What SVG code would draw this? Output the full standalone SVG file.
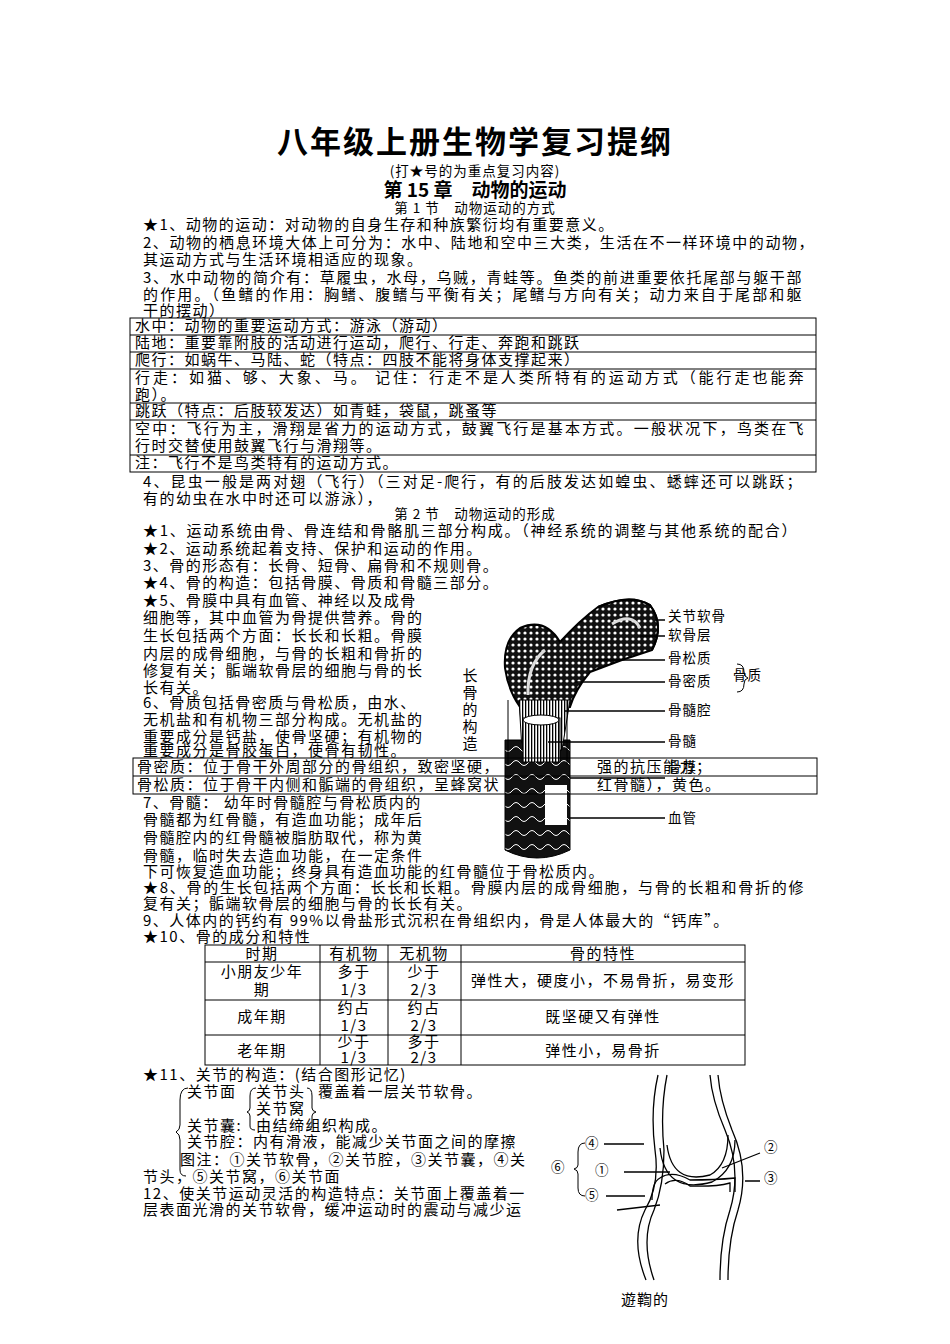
<svg xmlns="http://www.w3.org/2000/svg" width="950" height="1344" viewBox="0 0 950 1344">
<style>
text{font-family:"Noto Sans CJK SC","Liberation Serif",serif;fill:#000}
.t{font-size:15px;letter-spacing:1.5px}
.s{font-size:13.5px;letter-spacing:1px}
.b{fill:none;stroke:#000;stroke-width:1}
.ln{stroke:#000;stroke-width:1.3;fill:none}
.k{fill:none;stroke:#000;stroke-width:2}
</style>
<defs>
<pattern id="dots" width="6" height="6" patternUnits="userSpaceOnUse"><rect width="6" height="6" fill="#111"/><circle cx="3" cy="3" r="1.6" fill="#fff"/></pattern>
<pattern id="net" width="16" height="14" patternUnits="userSpaceOnUse"><rect width="16" height="14" fill="#111"/><path d="M0 7 Q4 2 8 7 T16 7" stroke="#fff" stroke-width="1" fill="none"/></pattern>
<pattern id="vl" width="3" height="4" patternUnits="userSpaceOnUse"><rect width="3" height="4" fill="#fff"/><rect width="1.3" height="4" fill="#000"/></pattern>
</defs>
<rect width="950" height="1344" fill="#fff"/>
<g id="header">
<text x="475" y="153" text-anchor="middle" style="font-size:31px;font-weight:bold;letter-spacing:2px">八年级上册生物学复习提纲</text>
<text x="475" y="176" text-anchor="middle" class="s">(打★号的为重点复习内容)</text>
<text x="475" y="197" text-anchor="middle" style="font-size:19px;font-weight:bold">第 15 章　动物的运动</text>
<text x="475" y="213" text-anchor="middle" class="s">第 1 节　动物运动的方式</text>
</g>
<g id="sec1" class="t">
<text x="143" y="230">★1、动物的运动：对动物的自身生存和种族繁衍均有重要意义。</text>
<text x="143" y="248" textLength="672">2、动物的栖息环境大体上可分为：水中、陆地和空中三大类，生活在不一样环境中的动物，</text>
<text x="143" y="265">其运动方式与生活环境相适应的现象。</text>
<text x="143" y="283" textLength="660">3、水中动物的简介有：草履虫，水母，乌贼，青蛙等。鱼类的前进重要依托尾部与躯干部</text>
<text x="143" y="300" textLength="660">的作用。（鱼鳍的作用：胸鳍、腹鳍与平衡有关；尾鳍与方向有关；动力来自于尾部和躯</text>
<text x="143" y="316">干的摆动）</text>
</g>
<g id="table1">
<rect x="130" y="318" width="686" height="154" class="b"/>
<path class="b" d="M130 335H816M130 352H816M130 369H816M130 403H816M130 420H816M130 455H816"/>
<text class="t" x="135" y="331">水中：动物的重要运动方式：游泳（游动）</text>
<text class="t" x="135" y="348">陆地：重要靠附肢的活动进行运动，爬行、行走、奔跑和跳跃</text>
<text class="t" x="135" y="365">爬行：如蜗牛、马陆、蛇（特点：四肢不能将身体支撑起来）</text>
<text class="t" x="135" y="383" textLength="670">行走：如猫、够、大象、马。 记住：行走不是人类所特有的运动方式（能行走也能奔</text>
<text class="t" x="135" y="400">跑）。</text>
<text class="t" x="135" y="416">跳跃（特点：后肢较发达）如青蛙，袋鼠，跳蚤等</text>
<text class="t" x="135" y="434" textLength="670">空中：飞行为主，滑翔是省力的运动方式，鼓翼飞行是基本方式。一般状况下，鸟类在飞</text>
<text class="t" x="135" y="451">行时交替使用鼓翼飞行与滑翔等。</text>
<text class="t" x="135" y="468">注：飞行不是鸟类特有的运动方式。</text>
</g>
<g id="sec2" class="t">
<text x="143" y="487" textLength="660">4、昆虫一般是两对翅（飞行）（三对足-爬行，有的后肢发达如蝗虫、蟋蟀还可以跳跃；</text>
<text x="143" y="504">有的幼虫在水中时还可以游泳），</text>
<text x="475" y="519" text-anchor="middle" class="s">第 2 节　动物运动的形成</text>
<text x="143" y="536" textLength="655">★1、运动系统由骨、骨连结和骨骼肌三部分构成。（神经系统的调整与其他系统的配合）</text>
<text x="143" y="554">★2、运动系统起着支持、保护和运动的作用。</text>
<text x="143" y="571">3、骨的形态有：长骨、短骨、扁骨和不规则骨。</text>
<text x="143" y="588">★4、骨的构造：包括骨膜、骨质和骨髓三部分。</text>
<text x="143" y="606">★5、骨膜中具有血管、神经以及成骨</text>
<text x="143" y="623">细胞等，其中血管为骨提供营养。骨的</text>
<text x="143" y="641">生长包括两个方面：长长和长粗。骨膜</text>
<text x="143" y="659">内层的成骨细胞，与骨的长粗和骨折的</text>
<text x="143" y="676">修复有关；骺端软骨层的细胞与骨的长</text>
<text x="143" y="693">长有关。</text>
<text x="143" y="708">6、骨质包括骨密质与骨松质，由水、</text>
<text x="143" y="725">无机盐和有机物三部分构成。无机盐的</text>
<text x="143" y="742">重要成分是钙盐，使骨坚硬；有机物的</text>
<text x="143" y="756">重要成分是骨胶蛋白，使骨有韧性。</text>
</g>
<g id="bone">
<path d="M505 740 L505 850 Q537 866 570 850 L570 740 Z" fill="url(#net)" stroke="#000"/>
<rect x="545" y="785" width="22" height="40" fill="#fff"/>
<path d="M520 707 Q508 690 505 668 Q503 640 520 628 Q545 617 560 642 Q580 620 598 607 Q630 593 650 605 Q665 625 652 650 Q620 660 590 672 Q575 690 570 707 Z" fill="url(#dots)" stroke="#000" stroke-width="2"/>
<path d="M598 607 Q630 593 650 605 Q665 625 652 650" class="k" stroke-width="4"/>
<path d="M612 624 Q632 612 640 628" stroke="#ddd" stroke-width="3" fill="none"/>
<path d="M528 695 Q527 665 545 650" stroke="#ddd" stroke-width="3" fill="none"/>
<path d="M519 700 L522 750 L562 750 L570 700 Z" fill="url(#vl)" stroke="#000"/>
<rect x="523" y="718" width="37" height="44" fill="url(#vl)" stroke="#000"/>
<ellipse cx="541" cy="720" rx="18" ry="5" fill="#fff" stroke="#000"/>
<path d="M508 700 L508 765 M567 700 L567 765" class="b"/>
<g class="ln">
<path d="M655 620H665M640 636H665M595 660H665M575 682H665M565 711H665M548 742H665M570 778H665M570 818H665"/>
</g>
<g class="s">
<text x="668" y="621">关节软骨</text><text x="668" y="640">软骨层</text><text x="668" y="663">骨松质</text><text x="668" y="686">骨密质</text><text x="668" y="715">骨髓腔</text><text x="668" y="746">骨髓</text><text x="668" y="823">血管</text>
<text x="733" y="680">骨质</text>
<path d="M737 664 Q744 664 744 672 Q744 677 748 678 Q744 679 744 684 Q744 692 737 692" class="b"/>
</g>
<g style="font-size:15px">
<text x="470" y="681" text-anchor="middle">长</text><text x="470" y="698" text-anchor="middle">骨</text><text x="470" y="715" text-anchor="middle">的</text><text x="470" y="732" text-anchor="middle">构</text><text x="470" y="749" text-anchor="middle">造</text>
</g>
</g>
<g id="box2">
<rect x="133" y="758" width="684" height="36" class="b"/>
<path d="M133 776H817" class="b"/>
<text class="t" x="137" y="772">骨密质：位于骨干外周部分的骨组织，致密坚硬，</text>
<text class="t" x="597" y="772">强的抗压能力；</text>
<text class="t" x="137" y="790">骨松质：位于骨干内侧和骺端的骨组织，呈蜂窝状</text>
<text class="t" x="597" y="790">红骨髓），黄色。</text>
<text class="s" x="668" y="772">骨膜</text>
</g>
<g id="sec3" class="t">
<text x="143" y="808">7、骨髓： 幼年时骨髓腔与骨松质内的</text>
<text x="143" y="825">骨髓都为红骨髓，有造血功能；成年后</text>
<text x="143" y="843">骨髓腔内的红骨髓被脂肪取代，称为黄</text>
<text x="143" y="861">骨髓，临时失去造血功能，在一定条件</text>
<text x="143" y="877">下可恢复造血功能；终身具有造血功能的红骨髓位于骨松质内。</text>
<text x="143" y="893" textLength="662">★8、骨的生长包括两个方面：长长和长粗。骨膜内层的成骨细胞，与骨的长粗和骨折的修</text>
<text x="143" y="909">复有关；骺端软骨层的细胞与骨的长长有关。</text>
<text x="143" y="926">9、人体内的钙约有 99%以骨盐形式沉积在骨组织内，骨是人体最大的“钙库”。</text>
<text x="143" y="942">★10、骨的成分和特性</text>
</g>
<g id="table2" class="t" text-anchor="middle">
<rect x="205" y="945" width="540" height="120" class="b"/>
<path class="b" d="M205 962H745M205 1000H745M205 1035H745M320 945V1065M388 945V1065M461 945V1065"/>
<text x="262" y="959">时期</text><text x="354" y="959">有机物</text><text x="424" y="959">无机物</text><text x="603" y="959">骨的特性</text>
<text x="262" y="977">小朋友少年</text><text x="262" y="995">期</text>
<text x="354" y="977">多于</text><text x="354" y="995">1/3</text>
<text x="424" y="977">少于</text><text x="424" y="995">2/3</text>
<text x="603" y="986">弹性大，硬度小，不易骨折，易变形</text>
<text x="262" y="1022">成年期</text>
<text x="354" y="1013">约占</text><text x="354" y="1031">1/3</text>
<text x="424" y="1013">约占</text><text x="424" y="1031">2/3</text>
<text x="603" y="1022">既坚硬又有弹性</text>
<text x="262" y="1056">老年期</text>
<text x="354" y="1047">少于</text><text x="354" y="1063">1/3</text>
<text x="424" y="1047">多于</text><text x="424" y="1063">2/3</text>
<text x="603" y="1056">弹性小，易骨折</text>
</g>
<g id="sec4" class="t">
<text x="143" y="1080">★11、关节的构造：(结合图形记忆)</text>
<text x="187" y="1097">关节面</text>
<text x="256" y="1097">关节头</text>
<text x="318" y="1097">覆盖着一层关节软骨。</text>
<text x="256" y="1114">关节窝</text>
<text x="187" y="1131">关节囊:</text>
<text x="256" y="1131">由结缔组织构成。</text>
<text x="187" y="1147">关节腔：内有滑液，能减少关节面之间的摩擦</text>
<text x="180" y="1165">图注：①关节软骨，②关节腔，③关节囊，④关</text>
<text x="143" y="1182">节头，⑤关节窝，⑥关节面</text>
<text x="143" y="1199">12、使关节运动灵活的构造特点：关节面上覆盖着一</text>
<text x="143" y="1215">层表面光滑的关节软骨，缓冲运动时的震动与减少运</text>
<path class="b" d="M188 1088 Q180 1088 180 1100 L180 1125 Q180 1130 176 1132 Q180 1134 180 1140 L180 1170 Q180 1176 186 1176"/>
<path class="b" d="M256 1088 Q250 1088 250 1096 L250 1108 Q250 1111 247 1112 Q250 1113 250 1116 L250 1126 Q250 1130 255 1130"/>
<path class="b" d="M307 1088 Q312 1088 312 1096 L312 1108 Q312 1111 316 1112 Q312 1113 312 1116 L312 1126 Q312 1130 306 1130"/>
</g>
<g id="knee">
<path class="ln" d="M658 1075 Q650 1110 655 1150 Q660 1185 645 1210 Q630 1240 646 1280"/>
<path class="ln" d="M667 1075 Q660 1110 664 1150 Q664 1185 654 1210 Q640 1240 654 1280"/>
<path class="ln" d="M710 1075 Q712 1100 725 1130 Q742 1170 730 1210 Q720 1240 720 1280"/>
<path class="ln" d="M718 1075 Q720 1100 732 1130 Q750 1170 738 1210 Q728 1240 728 1280"/>
<path class="ln" d="M667 1145 Q672 1185 710 1175 Q728 1165 728 1135"/>
<path class="ln" d="M660 1148 Q665 1195 712 1182 Q735 1170 735 1140"/>
<path class="ln" d="M660 1178 Q672 1170 690 1180 Q715 1180 735 1178 L735 1192"/>
<path class="ln" d="M665 1184 Q676 1176 690 1186 Q715 1187 730 1183 L730 1192"/>
<path class="ln" d="M660 1178 Q652 1182 652 1200"/>
<path class="ln" d="M604 1144H644M624 1172H670M745 1181H760M760 1153L722 1168M606 1196H645M617 1210L660 1205"/>
<g class="s">
<text x="585" y="1148">④</text><text x="595" y="1175">①</text><text x="585" y="1200">⑤</text>
<text x="551" y="1172">⑥</text><text x="764" y="1152">②</text><text x="764" y="1183">③</text>
<path class="b" d="M585 1143 Q578 1143 578 1152 L578 1165 Q578 1168 574 1169 Q578 1170 578 1174 L578 1188 Q578 1196 585 1196"/>
<text x="645" y="1305" text-anchor="middle" style="font-size:15px">遊鞫的</text>
</g>
</g>
</svg>
